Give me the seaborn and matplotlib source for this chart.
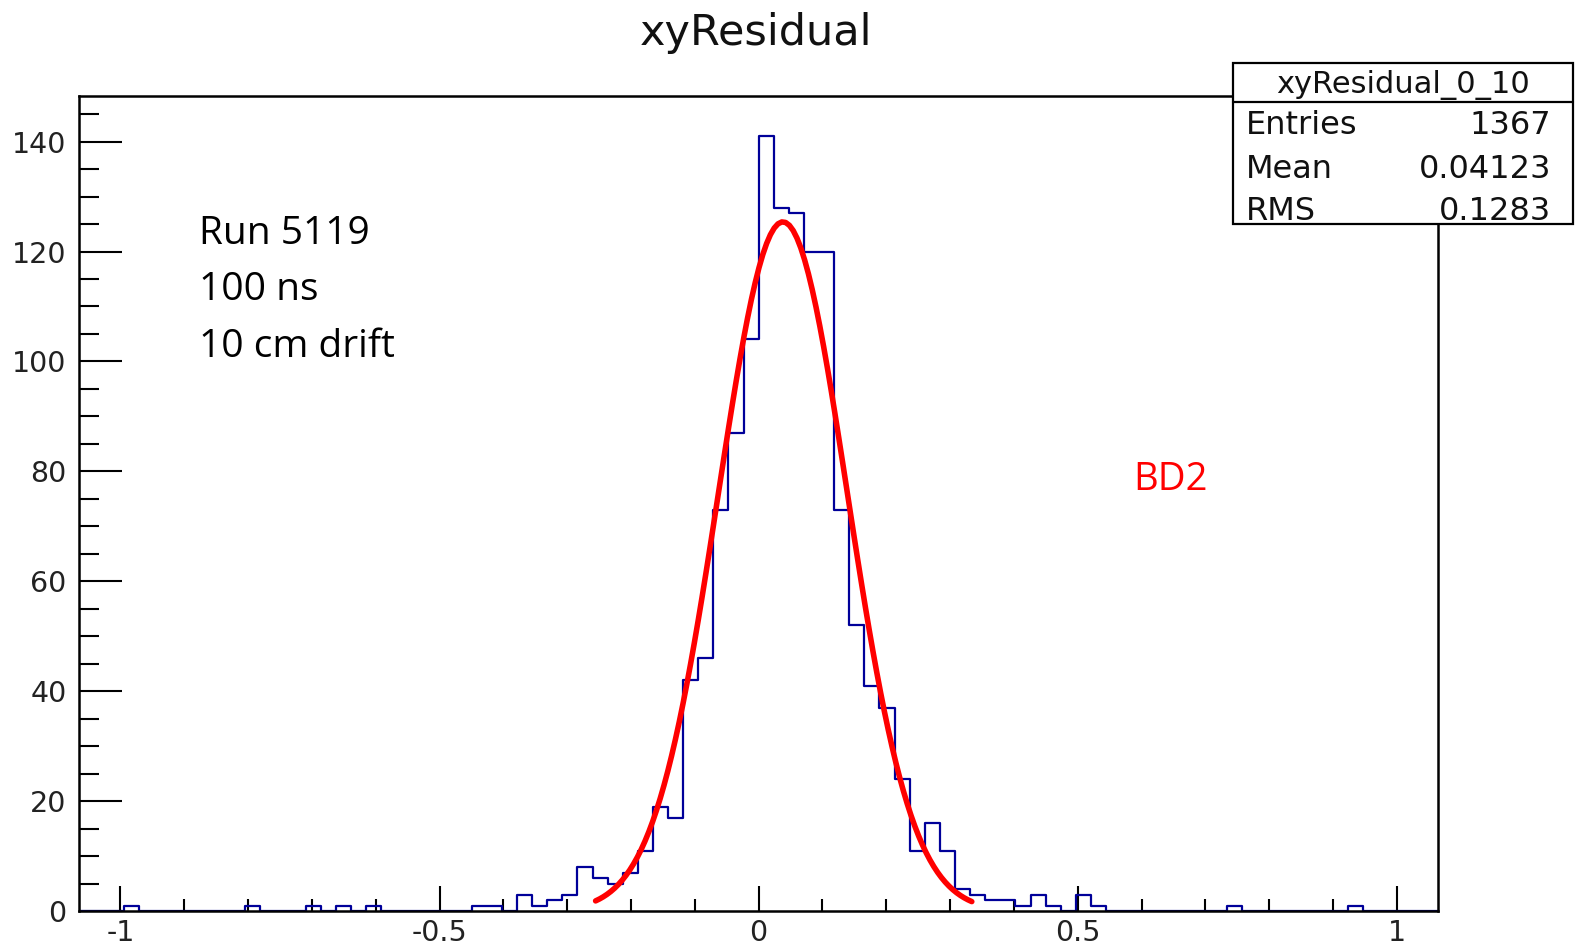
import numpy as np
import pandas as pd
import matplotlib
matplotlib.use("Agg")
import matplotlib.pyplot as plt
import seaborn as sns
from matplotlib.ticker import MultipleLocator, FixedLocator, FixedFormatter
from matplotlib.patches import Rectangle
from matplotlib.lines import Line2D

# ---------------- data ----------------
x_min, x_max, n_bins = -1.065, 1.065, 90
counts = [0, 0, 0, 1, 0, 0, 0, 0, 0, 0, 0, 1, 0, 0, 0, 1, 0, 1, 0, 1,
          0, 0, 0, 0, 0, 0, 1, 1, 0, 3, 1, 2, 3, 8, 6, 5, 7, 11, 19, 17,
          42, 46, 73, 87, 104, 141, 128, 127, 120, 120, 73, 52, 41, 37, 24, 11, 16, 11, 4, 3,
          2, 2, 1, 3, 1, 0, 3, 1, 0, 0, 0, 0, 0, 0, 0, 0, 1, 0, 0, 0,
          0, 0, 0, 0, 1, 0, 0, 0, 0, 0]
fit_amp, fit_mean, fit_sigma = 125.4, 0.038, 0.101
fit_lo, fit_hi = -0.2555, 0.334
x_ticks = [-1, -0.5, 0, 0.5, 1]
x_tick_labels = ["-1", "-0.5", "0", "0.5", "1"]
y_ticks = [0, 20, 40, 60, 80, 100, 120, 140]
y_tick_labels = ["0", "20", "40", "60", "80", "100", "120", "140"]
title = "xyResidual"
stats_name = "xyResidual_0_10"
stats_labels = ["Entries", "Mean", "RMS"]
stats_values = ["1367", "0.04123", "0.1283"]
note_lines = ["Run 5119", "100 ns", "10 cm drift"]
det_label = "BD2"

# ---------------- style ----------------
sns.set_style("ticks")
plt.rcParams["font.family"] = ["DejaVu Sans"]
plt.rcParams["axes.unicode_minus"] = False

W, H = 1581, 946
fig = plt.figure(figsize=(W / 100, H / 100), dpi=100)
fx = lambda px: px / W
fy = lambda py: 1 - py / H

ax_l, ax_r, ax_t, ax_b = 79, 1438.3, 96, 911
ax = fig.add_axes([fx(ax_l), fy(ax_b), fx(ax_r) - fx(ax_l), fy(ax_t) - fy(ax_b)])

edges = np.linspace(x_min, x_max, n_bins + 1)
centers = 0.5 * (edges[:-1] + edges[1:])
hist_df = pd.DataFrame({"x": centers, "w": np.asarray(counts, dtype=float)})
sns.histplot(data=hist_df, x="x", weights="w", bins=list(edges), element="step", fill=False,
             color="#000099", linewidth=1.6, ax=ax)

fit_x = np.linspace(fit_lo, fit_hi, 100)
fit_y = fit_amp * np.exp(-0.5 * ((fit_x - fit_mean) / fit_sigma) ** 2)
fit_df = pd.DataFrame({"x": fit_x, "y": fit_y})
sns.lineplot(data=fit_df, x="x", y="y", color="#ff0000", linewidth=4.0, ax=ax, zorder=5)

ax.set_xlim(x_min, x_max)
ax.set_ylim(0, 148.3)
ax.set_xlabel("")
ax.set_ylabel("")

ax.xaxis.set_major_locator(FixedLocator(x_ticks))
ax.xaxis.set_major_formatter(FixedFormatter(x_tick_labels))
ax.xaxis.set_minor_locator(MultipleLocator(0.1))
ax.yaxis.set_major_locator(FixedLocator(y_ticks))
ax.yaxis.set_major_formatter(FixedFormatter(y_tick_labels))
ax.yaxis.set_minor_locator(MultipleLocator(5))

tick_col = "#222222"
ax.tick_params(axis="x", which="major", direction="in", length=18, width=1.5,
               labelsize=20.5, pad=6, colors="black", labelcolor=tick_col)
ax.tick_params(axis="x", which="minor", direction="in", length=8.6, width=1.5, colors="black")
ax.tick_params(axis="y", which="major", direction="in", length=31, width=1.5,
               labelsize=20.5, pad=9, colors="black", labelcolor=tick_col)
ax.tick_params(axis="y", which="minor", direction="in", length=14.4, width=1.5, colors="black")
for s in ax.spines.values():
    s.set_visible(True)
    s.set_linewidth(1.8)
    s.set_color("black")

# title
fig.text(fx(756), fy(45), title, ha="center", va="baseline", fontsize=31,
         color="#111111", family="DejaVu Sans")

# annotations
for line, base in zip(note_lines, [244, 300, 356.7]):
    fig.text(fx(199), fy(base), line, ha="left", va="baseline", fontsize=28,
             color="black", family="Open Sans")
fig.text(fx(1133), fy(490), det_label, ha="left", va="baseline", fontsize=27.5,
         color="#ff0000", family="Open Sans")

# stats box
bx0, bx1, by0, by1, bsep = 1233.3, 1573.3, 62.7, 224, 102.3
rect = Rectangle((fx(bx0), fy(by1)), fx(bx1) - fx(bx0), fy(by0) - fy(by1),
                 transform=fig.transFigure, facecolor="white", edgecolor="black",
                 linewidth=1.6, zorder=10)
fig.add_artist(rect)
fig.add_artist(Line2D([fx(bx0), fx(bx1)], [fy(bsep), fy(bsep)], transform=fig.transFigure,
                      color="black", linewidth=1.6, zorder=11))
fig.text(fx(1403), fy(93), stats_name, ha="center", va="baseline", fontsize=22,
         color="#111111", zorder=12)
for lab, val, base in zip(stats_labels, stats_values, [134, 177.5, 220]):
    fig.text(fx(1246), fy(base), lab, ha="left", va="baseline", fontsize=23,
             color="#111111", zorder=12)
    fig.text(fx(1551), fy(base), val, ha="right", va="baseline", fontsize=23,
             color="#111111", zorder=12)

fig.savefig("out.png", dpi=100, facecolor="white")
